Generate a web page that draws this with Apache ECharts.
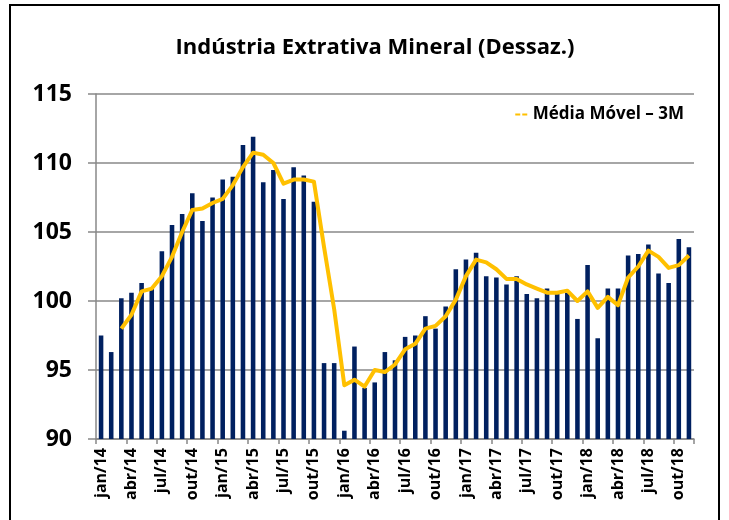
<!DOCTYPE html>
<html>
<head>
<meta charset="utf-8">
<script src="https://cdn.jsdelivr.net/npm/echarts@6/dist/echarts.min.js"></script>
<style>
  html, body { margin: 0; padding: 0; background: #fff; }
  #chart { width: 729px; height: 520px; }
</style>
</head>
<body>
<div id="chart"></div>
<script>
const monthNames = ['jan', 'fev', 'mar', 'abr', 'mai', 'jun', 'jul', 'ago', 'set', 'out', 'nov', 'dez'];
const years = ['14', '15', '16', '17', '18'];

// monthly categories jan/14 .. nov/18
const months = [];
years.forEach(y => monthNames.forEach(m => months.push(m + '/' + y)));
months.length = 59;

// índice (dessazonalizado)
const indexValues = [
  97.5, 96.3, 100.2, 100.6, 101.3, 100.9, 103.6, 105.5, 106.3, 107.8, 105.8, 107.5,
  108.8, 109.0, 111.3, 111.9, 108.6, 109.5, 107.4, 109.7, 109.1, 107.2, 95.5, 95.5,
  90.6, 96.7, 93.7, 94.1, 96.3, 95.7, 97.4, 97.5, 98.9, 98.0, 99.6, 102.3,
  103.0, 103.5, 101.8, 101.7, 101.2, 101.8, 100.5, 100.2, 100.9, 100.5, 100.6, 98.7,
  102.6, 97.3, 100.9, 100.9, 103.3, 103.4, 104.1, 102.0, 101.3, 104.5, 103.9
];

// média móvel 3 meses (starts at mar/14)
const movingAvg = [
  null, null, 98.0, 99.0, 100.7, 100.9, 101.8, 103.2, 105.0, 106.6, 106.7, 107.1,
  107.4, 108.4, 109.7, 110.75, 110.6, 110.0, 108.5, 108.8, 108.8, 108.65, 103.9, 99.4,
  93.9, 94.3, 93.8, 95.0, 94.85, 95.4, 96.5, 96.9, 98.0, 98.2, 98.9, 100.1,
  101.8, 103.0, 102.8, 102.3, 101.6, 101.6, 101.2, 100.9, 100.6, 100.6, 100.75, 100.0,
  100.7, 99.5, 100.3, 99.7, 101.7, 102.5, 103.65, 103.2, 102.4, 102.6, 103.3
];

const chart = echarts.init(document.getElementById('chart'), null, { renderer: 'canvas' });

const option = {
  animation: false,
  title: {
    text: 'Indústria Extrativa Mineral (Dessaz.)',
    left: 370,
    textAlign: 'center',
    top: 32,
    textStyle: { fontFamily: 'Open Sans', fontWeight: 'bold', fontSize: 22, color: '#000' }
  },
  legend: {
    data: ['Média Móvel – 3M'],
    right: 40,
    top: 101,
    icon: 'path://M0,0h5v2h-5z M7,0h5v2h-5z',
    itemWidth: 13,
    itemHeight: 2,
    itemGap: 5,
    textStyle: { fontFamily: 'Open Sans', fontWeight: 'bold', fontSize: 17, color: '#000' }
  },
  graphic: [{
    type: 'rect',
    shape: { x: 10, y: 5, width: 709, height: 530 },
    style: { fill: 'none', stroke: '#000', lineWidth: 2 },
    silent: true
  }],
  grid: { left: 96, right: 35, top: 94, bottom: 81 },
  xAxis: {
    type: 'category',
    data: months,
    boundaryGap: true,
    axisLine: { lineStyle: { color: '#888', width: 1.5 } },
    axisTick: { show: true, interval: 2, length: 5, lineStyle: { color: '#888', width: 1.5 } },
    axisLabel: {
      interval: 2,
      rotate: 90,
      margin: 9,
      fontFamily: 'Open Sans',
      fontWeight: 'bold',
      fontSize: 16,
      color: '#000'
    }
  },
  yAxis: {
    type: 'value',
    min: 90,
    max: 115,
    interval: 5,
    axisLine: { show: true, lineStyle: { color: '#888', width: 1.5 } },
    axisTick: { show: true, length: 8, lineStyle: { color: '#888', width: 1.5 } },
    splitLine: { lineStyle: { color: '#888', width: 1.5 } },
    axisLabel: {
      margin: 24,
      fontFamily: 'Open Sans',
      fontWeight: 'bold',
      fontSize: 23,
      color: '#000'
    }
  },
  series: [
    {
      name: 'Índice',
      type: 'bar',
      data: indexValues,
      barWidth: '45%',
      itemStyle: { color: '#002060' }
    },
    {
      name: 'Média Móvel – 3M',
      type: 'line',
      data: movingAvg,
      showSymbol: false,
      symbol: 'none',
      lineStyle: { color: '#FFC000', width: 4, join: 'round' },
      itemStyle: { color: '#FFC000' },
      z: 3
    }
  ]
};

chart.setOption(option);
</script>
</body>
</html>
